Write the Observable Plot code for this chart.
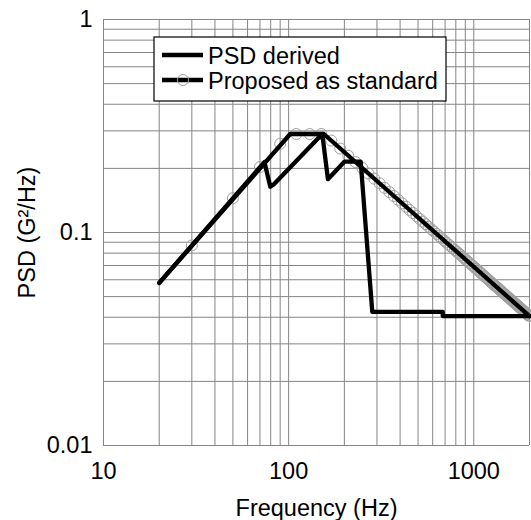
<!DOCTYPE html>
<html>
<head>
<meta charset="utf-8">
<script src="https://cdn.jsdelivr.net/npm/d3@7"></script>
<script src="https://cdn.jsdelivr.net/npm/@observablehq/plot@0.6"></script>
<style>
  html, body { margin: 0; padding: 0; background: #fff; }
  #chart { width: 531px; height: 520px; }
</style>
</head>
<body>
<div id="chart"></div>
<script>
// ---- data ----
const xGridTicks = [10, 20, 30, 40, 50, 60, 70, 80, 90, 100, 200, 300, 400, 500, 600, 700, 800, 900, 1000, 2000];
const yGridTicks = [0.01, 0.02, 0.03, 0.04, 0.05, 0.06, 0.07, 0.08, 0.09, 0.1, 0.2, 0.3, 0.4, 0.5, 0.6, 0.7, 0.8, 0.9, 1];
const xTickLabels = [10, 100, 1000];
const yTickLabels = [0.01, 0.1, 1];

const seriesNames = ["PSD derived", "Proposed as standard"];

// PSD derived (Hz, G^2/Hz)
const derivedFreq = [20, 74, 79.6, 83, 152, 163, 200, 245, 283, 680, 680, 2000];
const derivedPsd  = [0.058, 0.214, 0.164, 0.168, 0.29, 0.178, 0.215, 0.215, 0.0424, 0.0424, 0.0405, 0.0405];

// Proposed as standard: line breakpoints
const standardFreq = [20, 102, 155, 2000];
const standardPsd  = [0.058, 0.29, 0.29, 0.0405];

// Proposed as standard: marker samples
const markerFreq = [30, 50, 70, 90, 110, 130, 150, 170, 190, 210, 230, 250, 270, 290, 310, 330, 350, 370, 390, 410, 430, 450, 470, 490, 510, 530, 550, 570, 590, 610, 630, 650, 670, 690, 710, 730, 750, 770, 790, 810, 830, 850, 870, 890, 910, 930, 950, 970, 990, 1010, 1030, 1050, 1070, 1090, 1110, 1130, 1150, 1170, 1190, 1210, 1230, 1250, 1270, 1290, 1310, 1330, 1350, 1370, 1390, 1410, 1430, 1450, 1470, 1490, 1510, 1530, 1550, 1570, 1590, 1610, 1630, 1650, 1670, 1690, 1710, 1730, 1750, 1770, 1790, 1810, 1830, 1850, 1870, 1890, 1910, 1930, 1950, 1970, 1990];
const markerPsd = [0.087, 0.145, 0.203, 0.261, 0.29, 0.29, 0.29, 0.2701, 0.2479, 0.2295, 0.2140, 0.2007, 0.1891, 0.1790, 0.1701, 0.1620, 0.1549, 0.1484, 0.1425, 0.1371, 0.1322, 0.1276, 0.1234, 0.1195, 0.1159, 0.1125, 0.1094, 0.1064, 0.1036, 0.1010, 0.0985, 0.0962, 0.0939, 0.0918, 0.0898, 0.0879, 0.0861, 0.0844, 0.0827, 0.0812, 0.0797, 0.0782, 0.0768, 0.0755, 0.0742, 0.0730, 0.0718, 0.0707, 0.0696, 0.0685, 0.0675, 0.0665, 0.0655, 0.0646, 0.0637, 0.0628, 0.0620, 0.0611, 0.0604, 0.0596, 0.0588, 0.0581, 0.0574, 0.0567, 0.0560, 0.0554, 0.0548, 0.0541, 0.0536, 0.0530, 0.0524, 0.0518, 0.0513, 0.0508, 0.0502, 0.0497, 0.0492, 0.0488, 0.0483, 0.0478, 0.0474, 0.0469, 0.0465, 0.0461, 0.0457, 0.0453, 0.0449, 0.0445, 0.0441, 0.0437, 0.0433, 0.0430, 0.0426, 0.0423, 0.0419, 0.0416, 0.0413, 0.0409, 0.0406];

// ---- build tables ----
const derived = derivedFreq.map((f, i) => ({f, p: derivedPsd[i]}));
const standard = standardFreq.map((f, i) => ({f, p: standardPsd[i]}));
const markers = markerFreq.map((f, i) => ({f, p: markerPsd[i]}));

const FONT = "'Liberation Sans', Arial, Helvetica, sans-serif";
const FS = 23.5;
const gridColor = "#858585";
const lineW = 4.3;
const markerColor = "#a0a0a0";

// legend drawn as a custom render mark, positioned relative to the frame
function legendMark(index, scales, values, dims) {
  const g = d3.create("svg:g").attr("font-family", FONT).attr("font-size", FS).attr("text-anchor", "start");
  const x0 = dims.marginLeft + 51, y0 = dims.marginTop + 18;
  g.append("rect").attr("x", x0).attr("y", y0).attr("width", 292).attr("height", 64)
    .attr("fill", "#fff").attr("stroke", "#000").attr("stroke-width", 1.2);
  seriesNames.forEach((name, i) => {
    const cy = y0 + 18 + i * 25;
    g.append("line").attr("x1", x0 + 8).attr("x2", x0 + 49).attr("y1", cy).attr("y2", cy)
      .attr("stroke", "#000").attr("stroke-width", lineW);
    if (i === 1) {
      g.append("circle").attr("cx", x0 + 29).attr("cy", cy).attr("r", 5.5)
        .attr("fill", "none").attr("stroke", markerColor).attr("stroke-width", 1);
    }
    g.append("text").attr("x", x0 + 54).attr("y", cy + 9).attr("text-anchor", "start").attr("fill", "#000").text(name);
  });
  return g.node();
}

const chart = Plot.plot({
  width: 531,
  height: 520,
  marginLeft: 103,
  marginRight: 2,
  marginTop: 19,
  marginBottom: 75,
  x: {type: "log", domain: [10, 2000]},
  y: {type: "log", domain: [0.01, 1]},
  style: {fontFamily: FONT, fontSize: FS + "px", color: "#000", background: "#fff", overflow: "visible"},
  marks: [
    Plot.ruleX(xGridTicks, {x: d => d, stroke: gridColor, strokeWidth: 1}),
    Plot.ruleY(yGridTicks, {y: d => d, stroke: gridColor, strokeWidth: 1}),
    Plot.axisX({ticks: xTickLabels, tickSize: 0, tickPadding: 17, tickFormat: d => String(d), label: null, fontSize: FS, fill: "#000"}),
    Plot.axisY({ticks: yTickLabels, tickSize: 0, tickPadding: 11, tickFormat: d => String(d), label: null, fontSize: FS, fill: "#000"}),
    Plot.dot(markers, {x: "f", y: "p", r: 5.5, stroke: markerColor, strokeWidth: 1, fill: "none"}),
    Plot.line(standard, {x: "f", y: "p", stroke: "#000", strokeWidth: lineW, strokeLinejoin: "round", strokeLinecap: "round"}),
    Plot.line(derived, {x: "f", y: "p", stroke: "#000", strokeWidth: lineW, strokeLinejoin: "round", strokeLinecap: "round"}),
    Plot.text(["Frequency (Hz)"], {text: d => d, frameAnchor: "bottom", textAnchor: "middle", lineAnchor: "bottom", dy: 70, fontSize: FS, fill: "#000"}),
    Plot.text(["PSD (G²/Hz)"], {text: d => d, frameAnchor: "left", textAnchor: "middle", lineAnchor: "middle", rotate: -90, dx: -76, fontSize: FS, fill: "#000"}),
    legendMark
  ]
});
document.getElementById("chart").appendChild(chart);
</script>
</body>
</html>
